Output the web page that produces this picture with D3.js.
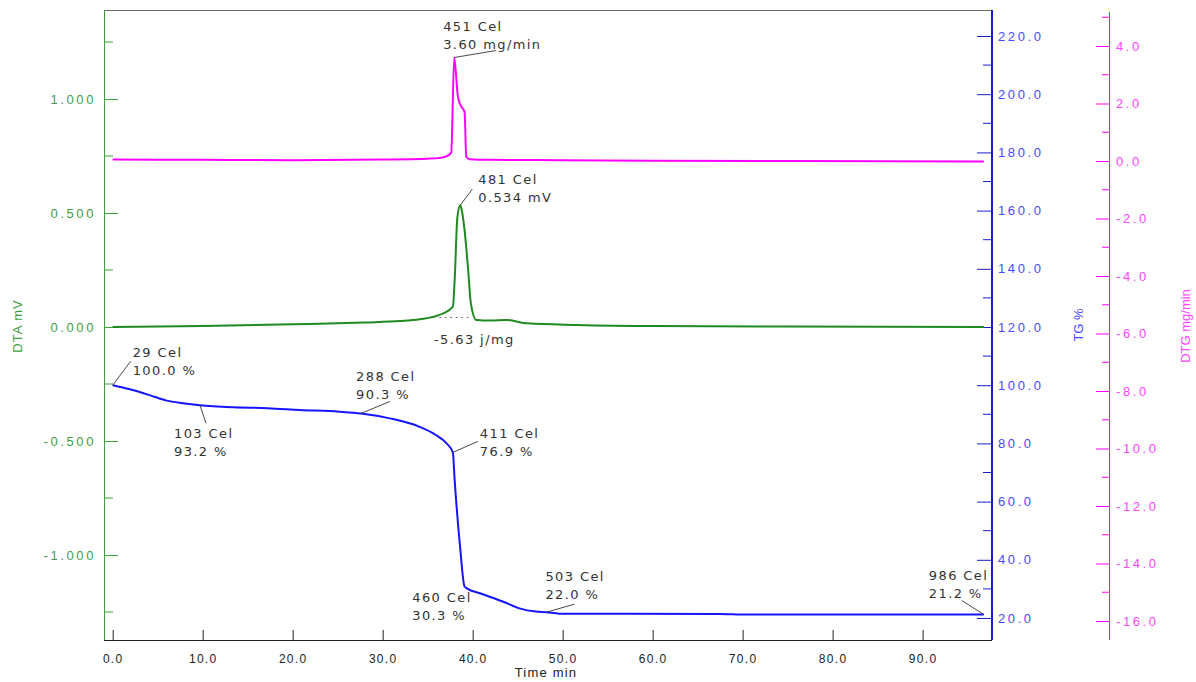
<!DOCTYPE html>
<html>
<head>
<meta charset="utf-8">
<script src="https://cdn.jsdelivr.net/npm/d3@7"></script>
<style>
  html, body { margin: 0; padding: 0; background: #fff; }
  svg { display: block; }
</style>
</head>
<body>
<svg id="chart" width="1196" height="682"></svg>
<script>
// ---------- data ----------
const timeTG = [0, 1.9, 4.1, 6.0, 7.8, 9.7, 13.4, 17.2, 20.8, 25.2, 27.6, 30.8, 34.1, 35.9, 37.1, 37.8, 38.0, 38.6, 39.1, 39.4, 40.8, 43.4, 45.2, 47.0, 48.2, 49.6, 67.4, 70.5, 96.8];
const tgValues = [100.0, 98.6, 96.6, 94.7, 93.8, 93.1, 92.4, 92.1, 91.5, 90.9, 90.3, 88.6, 85.7, 82.9, 80.0, 76.9, 67.4, 44.5, 30.8, 30.1, 28.5, 25.6, 23.3, 22.2, 22.0, 21.5, 21.4, 21.2, 21.2];

const timeDTA = [0, 10, 20, 28, 32, 34.1, 36.3, 37.8, 38.0, 38.3, 38.62, 38.8, 39.1, 39.5, 39.8, 40.4, 42, 43.7, 46.1, 51.6, 60, 75, 96.8];
const dtaValues = [0.0, 0.004, 0.012, 0.02, 0.026, 0.034, 0.053, 0.089, 0.206, 0.48, 0.534, 0.51, 0.425, 0.25, 0.104, 0.031, 0.028, 0.031, 0.016, 0.009, 0.004, 0.002, 0.0];

const timeDTG = [0, 10, 20, 30, 35, 36.2, 37.0, 37.62, 37.95, 38.36, 38.74, 39.1, 39.29, 39.66, 42, 50, 60, 75, 96.8];
const dtgValues = [0.05, 0.04, 0.03, 0.05, 0.08, 0.1, 0.15, 0.29, 3.60, 2.24, 1.89, 1.71, 0.15, 0.06, 0.04, 0.03, 0.01, 0.0, -0.02];

const timeTicks = [0, 10, 20, 30, 40, 50, 60, 70, 80, 90];
const dtaTicks = [-1.0, -0.5, 0.0, 0.5, 1.0];
const dtaMinor = [-1.25, -0.75, -0.25, 0.25, 0.75, 1.25];
const tgTicks = [20, 40, 60, 80, 100, 120, 140, 160, 180, 200, 220];
const tgMinor = [30, 50, 70, 90, 110, 130, 150, 170, 190, 210];
const dtgTicks = [-16, -14, -12, -10, -8, -6, -4, -2, 0, 2, 4];
const dtgMinor = [-15, -13, -11, -9, -7, -5, -3, -1, 1, 3, 5];

// annotation labels: anchor (time, value) on a curve
const annoLine1 = ["451 Cel", "481 Cel", "29 Cel", "103 Cel", "288 Cel", "411 Cel", "460 Cel", "503 Cel", "986 Cel"];
const annoLine2 = ["3.60 mg/min", "0.534 mV", "100.0 %", "93.2 %", "90.3 %", "76.9 %", "30.3 %", "22.0 %", "21.2 %"];
const annoSeries = ["dtg", "dta", "tg", "tg", "tg", "tg", "tg", "tg", "tg"];
const annoTime = [37.95, 38.62, 0, 9.7, 27.6, 37.8, 39.4, 48.2, 96.8];
const annoValue = [3.60, 0.534, 100.0, 93.1, 90.3, 76.9, 30.1, 22.0, 21.2];
const peakAreaText = "-5.63 j/mg";

// ---------- layout ----------
const L = 104, R = 992, T = 10, B = 640;
const svg = d3.select("#chart");

const x = d3.scaleLinear().domain([-0.966, 97.71]).range([L, R]);
const yDTA = d3.scaleLinear().domain([-313 / 228, 317 / 228]).range([B, T]);
const yTG = d3.scaleLinear().domain([120 - 313 / 2.91, 120 + 317 / 2.91]).range([B, T]);
const yDTG = d3.scaleLinear().domain([-479 / 28.75, 151 / 28.75]).range([B, T]);

const GREEN_AX = "#3e9e3e", GREEN = "#1f8a1f";
const BLUE_AX = "#1c1cc8", BLUE = "#1414ff", BLUE_TXT = "#4848ff";
const MAG = "#ff00ff", MAG_TXT = "#ff44ff";
const TXT = "#333";

const fmt3 = v => (v < 0 ? "-" : "") + d3.format(".3f")(Math.abs(v));
const fmt1 = v => (v < 0 ? "-" : "") + d3.format(".1f")(Math.abs(v));

svg.append("defs").append("clipPath").attr("id", "plotclip")
  .append("rect").attr("x", L).attr("y", T).attr("width", R - L).attr("height", B - T);

// top border
svg.append("line").attr("x1", L).attr("x2", R).attr("y1", T + 0.5).attr("y2", T + 0.5)
  .attr("stroke", "#666").attr("stroke-width", 1);

// ---------- bottom axis ----------
const xAxis = d3.axisBottom(x).tickValues(timeTicks).tickSizeInner(-10).tickSizeOuter(0).tickPadding(14).tickFormat(fmt1);
const gx = svg.append("g").attr("transform", `translate(0,${B})`).call(xAxis);
gx.select(".domain").attr("stroke", "#222").attr("d", `M${L},0.5H${R}`);
gx.selectAll(".tick line").attr("stroke", "#222");
gx.selectAll(".tick text").attr("fill", "#222").style("font", "12px 'Liberation Sans', Arial, sans-serif").style("letter-spacing", "1.3px");
svg.append("text").attr("x", 546).attr("y", 677).attr("text-anchor", "middle")
  .attr("fill", "#222").style("font", "13px 'Liberation Sans', Arial, sans-serif").style("letter-spacing", "1.2px").text("Time min");

// ---------- left DTA axis ----------
const gl = svg.append("g").attr("transform", `translate(${L},0)`);
gl.call(d3.axisLeft(yDTA).tickValues(dtaTicks).tickSizeInner(-14).tickSizeOuter(0).tickPadding(8).tickFormat(fmt3));
gl.select(".domain").attr("stroke", GREEN_AX).attr("d", `M0.5,${T}V${B}`);
gl.selectAll(".tick line").attr("stroke", GREEN_AX);
gl.selectAll(".tick text").attr("fill", GREEN_AX).style("font", "13px 'Liberation Sans', Arial, sans-serif").style("letter-spacing", "2.6px");
gl.selectAll(".minor").data(dtaMinor).join("line").attr("class", "minor")
  .attr("x1", 0).attr("x2", 9).attr("y1", d => yDTA(d)).attr("y2", d => yDTA(d)).attr("stroke", GREEN_AX);
svg.append("text").attr("transform", "translate(22,326) rotate(-90)").attr("text-anchor", "middle")
  .attr("fill", GREEN_AX).style("font", "13px 'Liberation Sans', Arial, sans-serif").style("letter-spacing", "1px").text("DTA mV");

// ---------- right TG axis ----------
const gt = svg.append("g").attr("transform", `translate(${R},0)`);
gt.call(d3.axisRight(yTG).tickValues(tgTicks).tickSizeInner(-15).tickSizeOuter(0).tickPadding(6).tickFormat(fmt1));
gt.select(".domain").attr("stroke", BLUE_AX).attr("stroke-width", 2).attr("d", `M0,${T}V${B}`);
gt.selectAll(".tick line").attr("stroke", BLUE_AX);
gt.selectAll(".tick text").attr("fill", BLUE_TXT).style("font", "13px 'Liberation Sans', Arial, sans-serif").style("letter-spacing", "2.6px");
gt.selectAll(".minor").data(tgMinor).join("line").attr("class", "minor")
  .attr("x1", 0).attr("x2", -9).attr("y1", d => yTG(d)).attr("y2", d => yTG(d)).attr("stroke", BLUE_AX);
svg.append("text").attr("transform", "translate(1083,325) rotate(-90)").attr("text-anchor", "middle")
  .attr("fill", BLUE_TXT).style("font", "13px 'Liberation Sans', Arial, sans-serif").text("TG %");

// ---------- right DTG axis ----------
const PX = 1109;
const gd = svg.append("g").attr("transform", `translate(${PX},0)`);
gd.call(d3.axisRight(yDTG).tickValues(dtgTicks).tickSizeInner(-13).tickSizeOuter(0).tickPadding(7).tickFormat(fmt1));
gd.select(".domain").attr("stroke", MAG).attr("d", `M0.5,12V${B}`);
gd.selectAll(".tick line").attr("stroke", MAG);
gd.selectAll(".tick text").attr("fill", MAG_TXT).style("font", "13px 'Liberation Sans', Arial, sans-serif").style("letter-spacing", "2.6px");
gd.selectAll(".minor").data(dtgMinor).join("line").attr("class", "minor")
  .attr("x1", 0).attr("x2", -7).attr("y1", d => yDTG(d)).attr("y2", d => yDTG(d)).attr("stroke", MAG);
svg.append("text").attr("transform", "translate(1190,326) rotate(-90)").attr("text-anchor", "middle")
  .attr("fill", MAG_TXT).style("font", "13px 'Liberation Sans', Arial, sans-serif").text("DTG mg/min");

// ---------- curves ----------
const plot = svg.append("g").attr("clip-path", "url(#plotclip)");
function drawCurve(ts, vs, ys, color) {
  const pts = ts.map((t, i) => [t, vs[i]]);
  plot.append("path").datum(pts)
    .attr("fill", "none").attr("stroke", color).attr("stroke-width", 2).attr("stroke-linejoin", "round")
    .attr("d", d3.line().x(d => x(d[0])).y(d => ys(d[1])).curve(d3.curveMonotoneX));
}
drawCurve(timeDTG, dtgValues, yDTG, MAG);
drawCurve(timeDTA, dtaValues, yDTA, GREEN);
drawCurve(timeTG, tgValues, yTG, BLUE);

// dotted integration baseline under DTA peak
plot.append("line").attr("x1", x(36.3)).attr("x2", x(39.9)).attr("y1", yDTA(0.042)).attr("y2", yDTA(0.042))
  .attr("stroke", "#555").attr("stroke-width", 1).attr("stroke-dasharray", "1.5,4");

// ---------- annotations ----------
const scaleOf = { tg: yTG, dta: yDTA, dtg: yDTG };
// text offsets (dx to text start, dy to first baseline) and leader end offsets, in px from the anchor
const annoLayout = [
  { tx: -11, ty: -27, lx: 42, ly: -7 },
  { tx: 18, ty: -21, lx: 12, ly: -16 },
  { tx: 20, ty: -28, lx: 18, ly: -24 },
  { tx: -26, ty: 33, lx: 6, ly: 18 },
  { tx: -5, ty: -32, lx: 29, ly: -12 },
  { tx: 27, ty: -14, lx: 25, ly: -11 },
  { tx: -55, ty: 13, lx: null, ly: null },
  { tx: -1, ty: -31, lx: 28, ly: -8 },
  { tx: -55, ty: -35, lx: -22, ly: -14 }
];
const ag = plot.append("g");
annoLine1.forEach((s, i) => {
  const ax = x(annoTime[i]), ay = scaleOf[annoSeries[i]](annoValue[i]);
  const lay = annoLayout[i];
  if (lay.lx !== null) {
    ag.append("line").attr("x1", ax).attr("y1", ay).attr("x2", ax + lay.lx).attr("y2", ay + lay.ly)
      .attr("stroke", "#333").attr("stroke-width", 0.9);
  }
  const t = ag.append("text").attr("fill", TXT)
    .style("font", "13px 'DejaVu Sans', Verdana, sans-serif").style("letter-spacing", "1.4px");
  t.append("tspan").attr("x", ax + lay.tx).attr("y", ay + lay.ty).text(s);
  t.append("tspan").attr("x", ax + lay.tx).attr("y", ay + lay.ty + 18).text(annoLine2[i]);
});
ag.append("text").attr("x", x(35.7)).attr("y", yDTA(0.0) + 17).attr("fill", TXT)
  .style("font", "13px 'DejaVu Sans', Verdana, sans-serif").style("letter-spacing", "1.4px").text(peakAreaText);
</script>
</body>
</html>
